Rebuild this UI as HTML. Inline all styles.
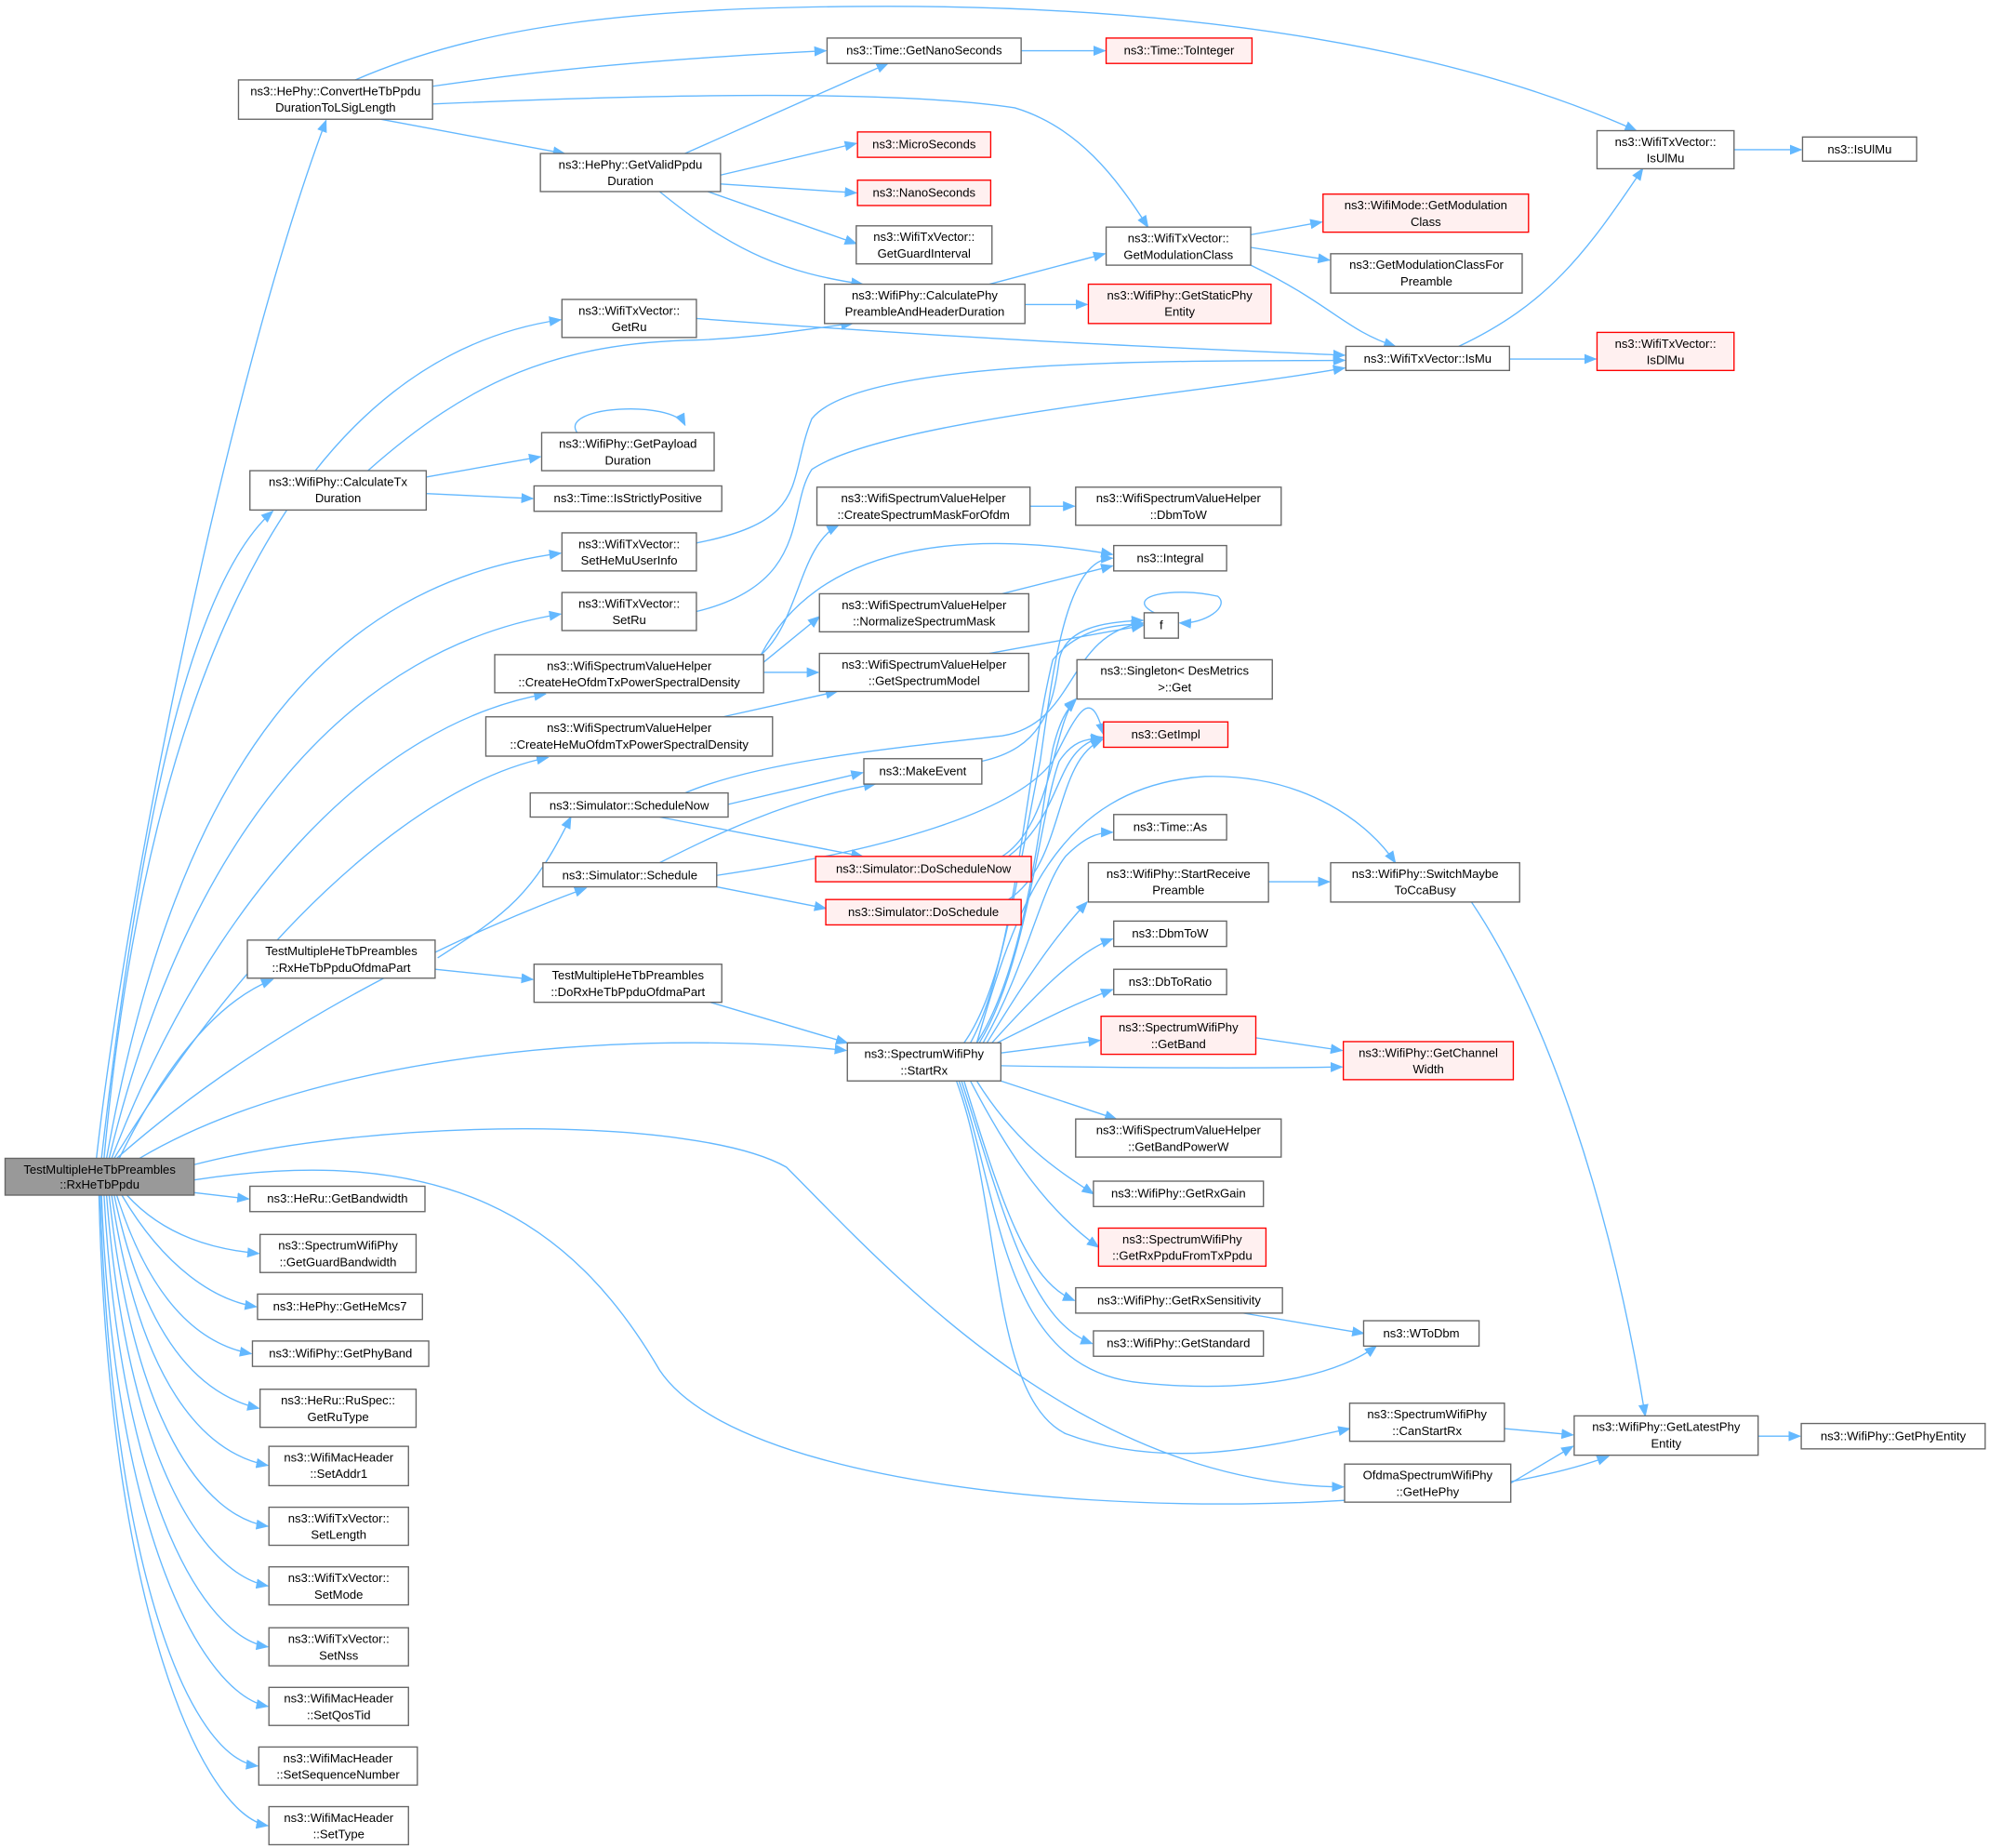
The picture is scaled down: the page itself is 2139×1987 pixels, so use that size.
<!DOCTYPE html>
<html><head><meta charset="utf-8"><style>
html,body{margin:0;padding:0;background:#fff;}
svg{display:block;}
text{font-family:"Liberation Sans",sans-serif;font-size:9.6px;fill:#000;text-anchor:middle;}
.n{fill:#fff;stroke:#666;stroke-width:1;}
.r{fill:#fff0f0;stroke:#f00;stroke-width:1;}
.g{fill:#999;stroke:#666;stroke-width:1;}
path.e{fill:none;stroke:#63b8ff;stroke-width:1;marker-end:url(#a);}
</style></head><body>
<svg width="2139" height="1987" viewBox="0 0 1568 1456.6" xmlns="http://www.w3.org/2000/svg">
<defs><marker id="a" markerWidth="10" markerHeight="8" refX="9" refY="4" orient="auto" markerUnits="userSpaceOnUse"><path d="M0,0 L10,4 L0,8z" fill="#63b8ff"/></marker></defs>

<g>
<path class="e" d="M76,913 C100,700 180,300 257,95"/>
<path class="e" d="M80,913 C110,650 150,460 215,403"/>
<path class="e" d="M82,913 C120,500 250,280 442,252"/>
<path class="e" d="M84,913 C140,600 260,460 442,436"/>
<path class="e" d="M86,913 C150,650 280,510 442,484"/>
<path class="e" d="M88,913 C170,700 300,570 430,547"/>
<path class="e" d="M90,913 C190,750 320,620 432,597"/>
<path class="e" d="M92,913 C220,800 380,730 462,700"/>
<path class="e" d="M94,913 C130,840 170,790 215,772"/>
<path class="e" d="M110,913 C250,830 500,810 667,828"/>
<path class="e" d="M153,918 C300,880 550,880 620,920 C700,1000 850,1170 1059,1172"/>
<path class="e" d="M153,930 C350,900 450,960 520,1080 C600,1200 1100,1210 1268,1148"/>
<path class="e" d="M153,940 L196,945"/>
<path class="e" d="M100,942 C130,975 170,985 204,988"/>
<path class="e" d="M96,942 C130,1000 170,1025 202,1030"/>
<path class="e" d="M92,942 C120,1030 160,1060 198,1067"/>
<path class="e" d="M90,942 C115,1060 160,1100 204,1110"/>
<path class="e" d="M88,942 C110,1090 160,1145 211,1155"/>
<path class="e" d="M86,942 C105,1120 160,1195 211,1203"/>
<path class="e" d="M84,942 C100,1150 160,1240 211,1250"/>
<path class="e" d="M82,942 C95,1180 160,1290 211,1298"/>
<path class="e" d="M80,942 C90,1210 160,1335 211,1345"/>
<path class="e" d="M79,942 C88,1240 150,1385 203,1392"/>
<path class="e" d="M78,942 C86,1270 160,1430 211,1439"/>

<path class="e" d="M341,68 C450,52 550,45 651,40"/>
<path class="e" d="M300,94 L445,121"/>
<path class="e" d="M280,63 C380,20 500,5 700,5 C950,5 1150,40 1290,103"/>
<path class="e" d="M341,82 C500,75 700,70 800,85 C850,100 880,140 905,179"/>
<path class="e" d="M540,121 L700,50"/>
<path class="e" d="M568,138 L675,113"/>
<path class="e" d="M568,145 L675,152"/>
<path class="e" d="M558,151 L675,192"/>
<path class="e" d="M520,151 C580,200 620,215 680,224"/>
<path class="e" d="M805,40 L871,40"/>
<path class="e" d="M780,224 L871,200"/>
<path class="e" d="M808,240 L857,240"/>
<path class="e" d="M986,185 L1042,175"/>
<path class="e" d="M986,195 L1048,205"/>
<path class="e" d="M986,209 C1050,240 1060,260 1100,273"/>
<path class="e" d="M549,251 C800,270 950,275 1060,280"/>
<path class="e" d="M1150,273 C1220,240 1250,200 1295,133"/>
<path class="e" d="M1190,283 L1258,283"/>
<path class="e" d="M1367,118 L1420,118"/>
<path class="e" d="M336,376 L426,360"/>
<path class="e" d="M336,389 L420,393"/>
<path class="e" d="M290,371 C370,300 440,270 550,268 C600,266 630,260 672,255"/>
<path class="e" d="M455,341 C440,320 530,315 540,335"/>
<path class="e" d="M549,428 C640,410 620,380 640,330 C680,280 950,285 1060,284"/>
<path class="e" d="M549,482 C640,460 620,400 640,370 C700,330 950,310 1060,290"/>
<path class="e" d="M600,516 C630,490 630,430 661,414"/>
<path class="e" d="M602,522 L646,486"/>
<path class="e" d="M602,530 L645,530"/>
<path class="e" d="M600,516 C650,420 780,420 877,437"/>
<path class="e" d="M570,565 L660,545"/>
<path class="e" d="M812,399 L847,399"/>
<path class="e" d="M790,468 L877,446"/>
<path class="e" d="M780,515 L901,493"/>
<path class="e" d="M540,625 C600,600 700,590 790,580 C850,570 840,500 901,491"/>
<path class="e" d="M574,634 L680,609"/>
<path class="e" d="M520,644 L680,675"/>
<path class="e" d="M520,680 C560,660 620,630 690,618"/>
<path class="e" d="M565,699 L651,716"/>
<path class="e" d="M565,690 C700,670 800,640 830,600 C850,560 860,540 870,579"/>
<path class="e" d="M774,600 C820,590 830,560 835,520 C840,495 870,490 901,489"/>
<path class="e" d="M790,675 C830,650 830,570 848,551"/>
<path class="e" d="M795,675 C840,640 830,590 869,581"/>
<path class="e" d="M795,709 C840,680 830,600 869,583"/>
<path class="e" d="M910,483 C885,470 925,462 960,470 C970,478 950,492 930,491"/>
<path class="e" d="M345,755 C400,720 420,705 450,644"/>
<path class="e" d="M343,764 L420,772"/>
<path class="e" d="M560,790 L668,822"/>
<path class="e" d="M760,822 C790,780 800,700 820,600 C830,530 840,440 877,440"/>
<path class="e" d="M765,822 C800,760 810,600 830,520 C850,495 880,492 901,492"/>
<path class="e" d="M770,822 C810,760 820,640 830,590 C835,570 840,560 848,552"/>
<path class="e" d="M772,822 C810,760 820,640 835,600 C845,585 855,582 869,582"/>
<path class="e" d="M775,822 C810,760 820,700 840,675 C855,660 865,656 877,656"/>
<path class="e" d="M778,822 C810,770 830,740 857,711"/>
<path class="e" d="M782,822 C820,780 850,750 877,740"/>
<path class="e" d="M786,822 C830,800 850,790 877,780"/>
<path class="e" d="M789,830 L867,820"/>
<path class="e" d="M789,840 C900,842 1000,842 1058,841"/>
<path class="e" d="M990,818 L1058,828"/>
<path class="e" d="M770,822 C800,720 830,620 950,612 C1030,610 1080,650 1100,680"/>
<path class="e" d="M1000,695 L1048,695"/>
<path class="e" d="M1160,711 C1220,800 1270,950 1297,1116"/>
<path class="e" d="M789,852 L880,882"/>
<path class="e" d="M770,852 C800,900 830,920 862,941"/>
<path class="e" d="M765,852 C790,900 820,950 866,983"/>
<path class="e" d="M760,852 C790,950 810,1010 847,1025"/>
<path class="e" d="M758,852 C790,950 810,1040 861,1059"/>
<path class="e" d="M756,852 C790,950 790,1080 900,1090 C1000,1100 1060,1080 1085,1061"/>
<path class="e" d="M754,852 C790,950 780,1100 840,1130 C920,1160 1000,1140 1064,1126"/>
<path class="e" d="M980,1035 L1075,1051"/>
<path class="e" d="M1186,1126 L1240,1131"/>
<path class="e" d="M1191,1169 L1240,1140"/>
<path class="e" d="M1386,1132 L1419,1132"/>
</g>

<rect class="g" x="4" y="913" width="149" height="29"/><text x="78.5" y="925">TestMultipleHeTbPreambles</text><text x="78.5" y="937">::RxHeTbPpdu</text>

<rect class="n" x="188" y="63" width="153" height="31"/><text x="264.5" y="75">ns3::HePhy::ConvertHeTbPpdu</text><text x="264.5" y="88">DurationToLSigLength</text>
<rect class="n" x="197" y="371" width="139" height="31"/><text x="266.5" y="383">ns3::WifiPhy::CalculateTx</text><text x="266.5" y="396">Duration</text>
<rect class="n" x="390" y="516" width="212" height="30"/><text x="496" y="528">ns3::WifiSpectrumValueHelper</text><text x="496" y="541">::CreateHeOfdmTxPowerSpectralDensity</text>
<rect class="n" x="383" y="565" width="226" height="31"/><text x="496" y="577">ns3::WifiSpectrumValueHelper</text><text x="496" y="590">::CreateHeMuOfdmTxPowerSpectralDensity</text>
<rect class="n" x="418" y="625" width="156" height="19"/><text x="496" y="638">ns3::Simulator::ScheduleNow</text>
<rect class="n" x="428" y="680" width="137" height="19"/><text x="496.5" y="693">ns3::Simulator::Schedule</text>
<rect class="n" x="195" y="741" width="148" height="30"/><text x="269" y="753">TestMultipleHeTbPreambles</text><text x="269" y="766">::RxHeTbPpduOfdmaPart</text>
<rect class="n" x="197" y="935" width="138" height="20"/><text x="266" y="948">ns3::HeRu::GetBandwidth</text>
<rect class="n" x="205" y="973" width="123" height="30"/><text x="266.5" y="985">ns3::SpectrumWifiPhy</text><text x="266.5" y="998">::GetGuardBandwidth</text>
<rect class="n" x="203" y="1020" width="130" height="20"/><text x="268" y="1033">ns3::HePhy::GetHeMcs7</text>
<rect class="n" x="199" y="1057" width="139" height="20"/><text x="268.5" y="1070">ns3::WifiPhy::GetPhyBand</text>
<rect class="n" x="205" y="1095" width="123" height="30"/><text x="266.5" y="1107">ns3::HeRu::RuSpec::</text><text x="266.5" y="1120">GetRuType</text>
<rect class="n" x="212" y="1140" width="110" height="31"/><text x="267" y="1152">ns3::WifiMacHeader</text><text x="267" y="1165">::SetAddr1</text>
<rect class="n" x="212" y="1188" width="110" height="30"/><text x="267" y="1200">ns3::WifiTxVector::</text><text x="267" y="1213">SetLength</text>
<rect class="n" x="212" y="1235" width="110" height="30"/><text x="267" y="1247">ns3::WifiTxVector::</text><text x="267" y="1260">SetMode</text>
<rect class="n" x="212" y="1283" width="110" height="30"/><text x="267" y="1295">ns3::WifiTxVector::</text><text x="267" y="1308">SetNss</text>
<rect class="n" x="212" y="1330" width="110" height="30"/><text x="267" y="1342">ns3::WifiMacHeader</text><text x="267" y="1355">::SetQosTid</text>
<rect class="n" x="204" y="1377" width="125" height="30"/><text x="266.5" y="1389">ns3::WifiMacHeader</text><text x="266.5" y="1402">::SetSequenceNumber</text>
<rect class="n" x="212" y="1424" width="110" height="30"/><text x="267" y="1436">ns3::WifiMacHeader</text><text x="267" y="1449">::SetType</text>

<rect class="n" x="426" y="121" width="142" height="30"/><text x="497" y="133">ns3::HePhy::GetValidPpdu</text><text x="497" y="146">Duration</text>
<rect class="n" x="443" y="236" width="106" height="30"/><text x="496" y="248">ns3::WifiTxVector::</text><text x="496" y="261">GetRu</text>
<rect class="n" x="427" y="341" width="136" height="30"/><text x="495" y="353">ns3::WifiPhy::GetPayload</text><text x="495" y="366">Duration</text>
<rect class="n" x="421" y="383" width="148" height="20"/><text x="495" y="396">ns3::Time::IsStrictlyPositive</text>
<rect class="n" x="443" y="420" width="106" height="30"/><text x="496" y="432">ns3::WifiTxVector::</text><text x="496" y="445">SetHeMuUserInfo</text>
<rect class="n" x="443" y="467" width="106" height="30"/><text x="496" y="479">ns3::WifiTxVector::</text><text x="496" y="492">SetRu</text>
<rect class="n" x="421" y="760" width="148" height="30"/><text x="495" y="772">TestMultipleHeTbPreambles</text><text x="495" y="785">::DoRxHeTbPpduOfdmaPart</text>

<rect class="n" x="652" y="30" width="153" height="20"/><text x="728.5" y="43">ns3::Time::GetNanoSeconds</text>
<rect class="r" x="676" y="104" width="105" height="20"/><text x="728.5" y="117">ns3::MicroSeconds</text>
<rect class="r" x="676" y="142" width="105" height="20"/><text x="728.5" y="155">ns3::NanoSeconds</text>
<rect class="n" x="675" y="178" width="107" height="30"/><text x="728.5" y="190">ns3::WifiTxVector::</text><text x="728.5" y="203">GetGuardInterval</text>
<rect class="n" x="650" y="224" width="158" height="31"/><text x="729" y="236">ns3::WifiPhy::CalculatePhy</text><text x="729" y="249">PreambleAndHeaderDuration</text>
<rect class="n" x="644" y="384" width="168" height="30"/><text x="728" y="396">ns3::WifiSpectrumValueHelper</text><text x="728" y="409">::CreateSpectrumMaskForOfdm</text>
<rect class="n" x="646" y="468" width="165" height="30"/><text x="728.5" y="480">ns3::WifiSpectrumValueHelper</text><text x="728.5" y="493">::NormalizeSpectrumMask</text>
<rect class="n" x="646" y="515" width="165" height="30"/><text x="728.5" y="527">ns3::WifiSpectrumValueHelper</text><text x="728.5" y="540">::GetSpectrumModel</text>
<rect class="n" x="681" y="598" width="93" height="20"/><text x="727.5" y="611">ns3::MakeEvent</text>
<rect class="r" x="643" y="675" width="170" height="20"/><text x="728" y="688">ns3::Simulator::DoScheduleNow</text>
<rect class="r" x="651" y="709" width="154" height="20"/><text x="728" y="722">ns3::Simulator::DoSchedule</text>
<rect class="n" x="668" y="822" width="121" height="30"/><text x="728.5" y="834">ns3::SpectrumWifiPhy</text><text x="728.5" y="847">::StartRx</text>

<rect class="r" x="872" y="30" width="115" height="20"/><text x="929.5" y="43">ns3::Time::ToInteger</text>
<rect class="n" x="872" y="179" width="114" height="30"/><text x="929" y="191">ns3::WifiTxVector::</text><text x="929" y="204">GetModulationClass</text>
<rect class="r" x="858" y="224" width="144" height="31"/><text x="930" y="236">ns3::WifiPhy::GetStaticPhy</text><text x="930" y="249">Entity</text>
<rect class="n" x="848" y="384" width="162" height="30"/><text x="929" y="396">ns3::WifiSpectrumValueHelper</text><text x="929" y="409">::DbmToW</text>
<rect class="n" x="878" y="430" width="89" height="20"/><text x="922.5" y="443">ns3::Integral</text>
<rect class="n" x="902" y="483" width="27" height="20"/><text x="915.5" y="496">f</text>
<rect class="n" x="849" y="520" width="154" height="31"/><text x="926" y="532">ns3::Singleton&lt; DesMetrics</text><text x="926" y="545">&gt;::Get</text>
<rect class="r" x="870" y="569" width="98" height="20"/><text x="919" y="582">ns3::GetImpl</text>
<rect class="n" x="878" y="642" width="89" height="20"/><text x="922.5" y="655">ns3::Time::As</text>
<rect class="n" x="858" y="680" width="142" height="31"/><text x="929" y="692">ns3::WifiPhy::StartReceive</text><text x="929" y="705">Preamble</text>
<rect class="n" x="878" y="726" width="89" height="20"/><text x="922.5" y="739">ns3::DbmToW</text>
<rect class="n" x="878" y="764" width="89" height="20"/><text x="922.5" y="777">ns3::DbToRatio</text>
<rect class="r" x="868" y="801" width="122" height="30"/><text x="929" y="813">ns3::SpectrumWifiPhy</text><text x="929" y="826">::GetBand</text>
<rect class="n" x="848" y="882" width="162" height="30"/><text x="929" y="894">ns3::WifiSpectrumValueHelper</text><text x="929" y="907">::GetBandPowerW</text>
<rect class="n" x="862" y="931" width="134" height="20"/><text x="929" y="944">ns3::WifiPhy::GetRxGain</text>
<rect class="r" x="866" y="968" width="132" height="30"/><text x="932" y="980">ns3::SpectrumWifiPhy</text><text x="932" y="993">::GetRxPpduFromTxPpdu</text>
<rect class="n" x="848" y="1015" width="163" height="20"/><text x="929.5" y="1028">ns3::WifiPhy::GetRxSensitivity</text>
<rect class="n" x="862" y="1049" width="134" height="20"/><text x="929" y="1062">ns3::WifiPhy::GetStandard</text>

<rect class="r" x="1043" y="153" width="162" height="30"/><text x="1124" y="165">ns3::WifiMode::GetModulation</text><text x="1124" y="178">Class</text>
<rect class="n" x="1049" y="200" width="151" height="31"/><text x="1124.5" y="212">ns3::GetModulationClassFor</text><text x="1124.5" y="225">Preamble</text>
<rect class="n" x="1061" y="273" width="129" height="19"/><text x="1125.5" y="286">ns3::WifiTxVector::IsMu</text>
<rect class="n" x="1049" y="680" width="149" height="31"/><text x="1123.5" y="692">ns3::WifiPhy::SwitchMaybe</text><text x="1123.5" y="705">ToCcaBusy</text>
<rect class="r" x="1059" y="821" width="134" height="30"/><text x="1126" y="833">ns3::WifiPhy::GetChannel</text><text x="1126" y="846">Width</text>
<rect class="n" x="1075" y="1041" width="91" height="20"/><text x="1120.5" y="1054">ns3::WToDbm</text>
<rect class="n" x="1064" y="1106" width="122" height="30"/><text x="1125" y="1118">ns3::SpectrumWifiPhy</text><text x="1125" y="1131">::CanStartRx</text>
<rect class="n" x="1060" y="1154" width="131" height="30"/><text x="1125.5" y="1166">OfdmaSpectrumWifiPhy</text><text x="1125.5" y="1179">::GetHePhy</text>

<rect class="n" x="1259" y="103" width="108" height="30"/><text x="1313" y="115">ns3::WifiTxVector::</text><text x="1313" y="128">IsUlMu</text>
<rect class="r" x="1259" y="262" width="108" height="30"/><text x="1313" y="274">ns3::WifiTxVector::</text><text x="1313" y="287">IsDlMu</text>
<rect class="n" x="1241" y="1116" width="145" height="31"/><text x="1313.5" y="1128">ns3::WifiPhy::GetLatestPhy</text><text x="1313.5" y="1141">Entity</text>

<rect class="n" x="1421" y="108" width="90" height="19"/><text x="1466" y="121">ns3::IsUlMu</text>
<rect class="n" x="1420" y="1122" width="145" height="20"/><text x="1492.5" y="1135">ns3::WifiPhy::GetPhyEntity</text>
</svg>
</body></html>
